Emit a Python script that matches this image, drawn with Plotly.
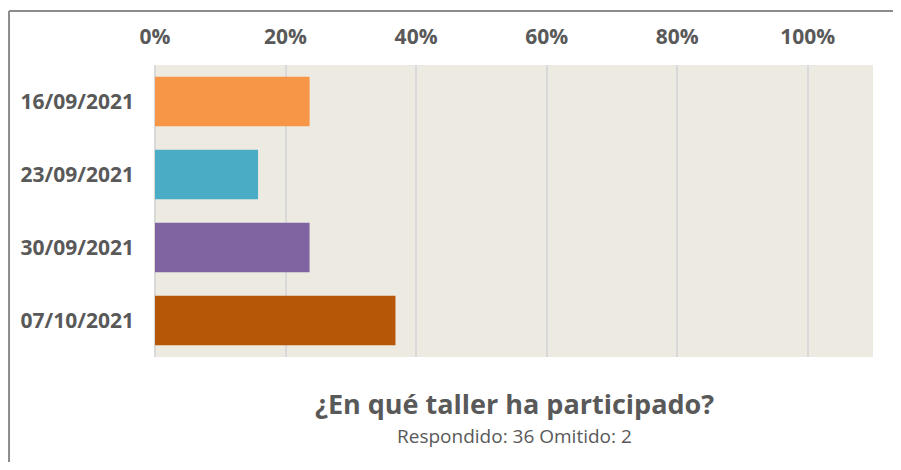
import plotly.graph_objects as go

# --- data ---
talleres = ["16/09/2021", "23/09/2021", "30/09/2021", "07/10/2021"]
porcentaje = [23.68, 15.79, 23.68, 36.84]
colores = ["#F79646", "#4BACC6", "#8064A2", "#B65708"]
ticks_x = [0, 20, 40, 60, 80, 100]
titulo = "¿En qué taller ha participado?"
subtitulo = "Respondido: 36 Omitido: 2"

fig = go.Figure()
fig.add_trace(go.Bar(
    x=porcentaje, y=talleres, orientation="h",
    marker=dict(color=colores, line=dict(width=0)),
    hoverinfo="x+y"
))

gris = "#595959"
# page body adds an 8px margin, so the figure is shrunk by that much
fig.update_layout(
    width=885, height=454,
    margin=dict(l=147, r=20, t=57, b=105),
    paper_bgcolor="white", plot_bgcolor="#EDEBE1",
    bargap=0.32, showlegend=False,
    font=dict(family="Open Sans", color=gris),
    xaxis=dict(range=[0, 110], side="top", tickvals=ticks_x,
               ticktext=[f"{v}%" for v in ticks_x],
               tickfont=dict(size=21, color=gris, family="Open Sans", weight="bold"),
               showgrid=True, gridcolor="#D9D9D9", gridwidth=1.5,
               zeroline=True, zerolinecolor="#D9D9D9", zerolinewidth=1.5,
               ticks="", ticklabelstandoff=16, fixedrange=True),
    yaxis=dict(autorange="reversed", categoryorder="array", categoryarray=talleres,
               tickfont=dict(size=21, color=gris, family="Open Sans", weight="bold"),
               showgrid=False, zeroline=False, ticks="", ticklabelstandoff=20,
               fixedrange=True),
)

# title + subtitle under the chart
fig.add_annotation(text=f"<b>{titulo}</b>", xref="paper", yref="paper",
                   x=0.5, y=-0.16, xanchor="center", yanchor="middle",
                   showarrow=False, font=dict(size=27, color=gris, family="Open Sans"))
fig.add_annotation(text=subtitulo, xref="paper", yref="paper",
                   x=0.5, y=-0.272, xanchor="center", yanchor="middle",
                   showarrow=False, font=dict(size=19, color=gris, family="Open Sans"))

# outer frame (left + top edges visible)
fig.add_shape(type="line", xref="paper", yref="paper", x0=-0.2033, x1=-0.2033,
              y0=1.185, y1=-0.40, line=dict(color="#8C8C8C", width=2))
fig.add_shape(type="line", xref="paper", yref="paper", x0=-0.2033, x1=1.05,
              y0=1.185, y1=1.185, line=dict(color="#8C8C8C", width=2))

fig.write_html("out.html")
